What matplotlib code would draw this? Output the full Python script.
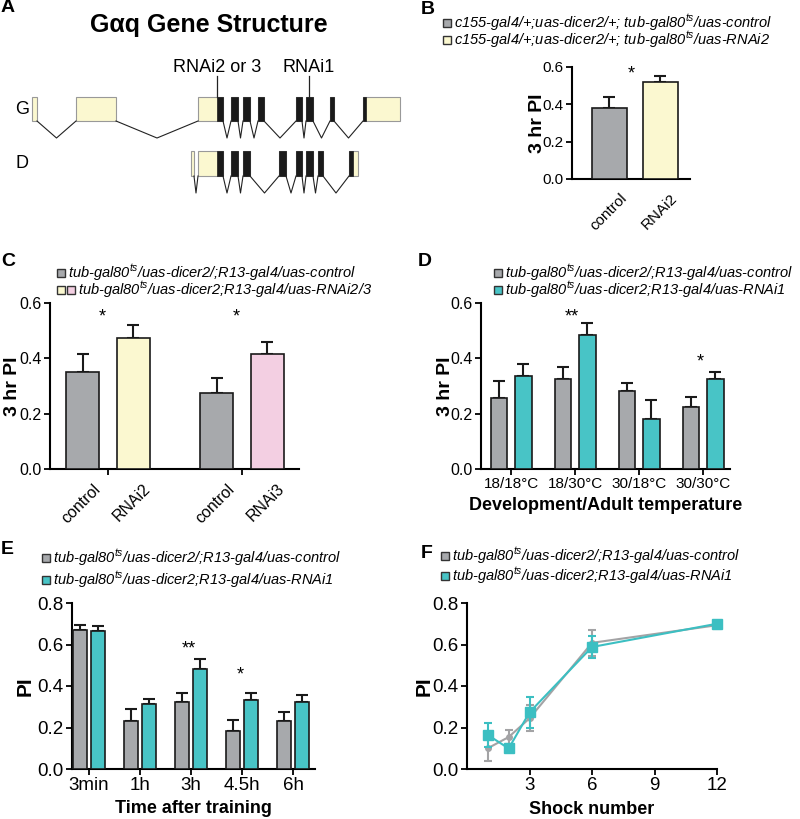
import numpy as np
import matplotlib
matplotlib.use('Agg')
import matplotlib.pyplot as plt
from matplotlib.patches import Rectangle
from matplotlib.transforms import ScaledTranslation

plt.rcParams['font.family'] = ['Liberation Sans', 'DejaVu Sans']
plt.rcParams['mathtext.fontset'] = 'custom'
plt.rcParams['mathtext.it'] = 'Liberation Sans:italic'
plt.rcParams['mathtext.rm'] = 'Liberation Sans'

W, H = 800, 819

grey = '#a7a9ac'
teal = '#48c4c6'
yellow = '#fbf8d0'
pink = '#f3cfe2'
grey_line = '#a3a3a5'
teal_line = '#3cbfc2'

# ---------------- data ----------------
# A: exon positions along the gene (diagram units) and coding region
g_exons = [(32, 37), (76, 116), (198, 223), (231, 238), (243, 250), (258, 264),
           (296, 302), (306, 313), (330, 334), (363, 400)]
g_cds = (217, 366)
d_exons = [(191, 194), (198, 223), (231, 238), (243, 250), (279, 286),
           (296, 302), (306, 313), (318, 323), (349, 358)]
d_cds = (217, 353)
rnai_sites = [217, 309]
rnai_labels = ['RNAi2 or 3', 'RNAi1']

# B
b_labels = ['control', 'RNAi2']
b_mean = [0.38, 0.52]
b_sem = [0.06, 0.03]

# C
c_labels = ['control', 'RNAi2', 'control', 'RNAi3']
c_mean = [0.351, 0.474, 0.275, 0.415]
c_sem = [0.063, 0.045, 0.054, 0.045]
c_stars = ['*', '*']

# D
d_groups = ['18/18°C', '18/30°C', '30/18°C', '30/30°C']
d_ctrl = [0.255, 0.325, 0.283, 0.225]
d_ctrl_sem = [0.064, 0.044, 0.027, 0.034]
d_rnai = [0.335, 0.486, 0.179, 0.325]
d_rnai_sem = [0.044, 0.043, 0.069, 0.024]
d_stars = ['', '**', '', '*']
d_star_y = [0, 0.549, 0, 0.387]

# E
e_groups = ['3min', '1h', '3h', '4.5h', '6h']
e_ctrl = [0.670, 0.232, 0.322, 0.183, 0.232]
e_ctrl_sem = [0.023, 0.055, 0.045, 0.054, 0.045]
e_rnai = [0.664, 0.313, 0.484, 0.333, 0.322]
e_rnai_sem = [0.025, 0.025, 0.047, 0.034, 0.037]
e_stars = ['', '', '**', '*', '']
e_star_y = [0, 0, 0.58, 0.452, 0]

# F
shocks = [1, 2, 3, 6, 12]
f_ctrl = [0.100, 0.154, 0.244, 0.608, 0.693]
f_ctrl_sem = [0.06, 0.035, 0.063, 0.062, 0.02]
f_rnai = [0.164, 0.099, 0.273, 0.588, 0.700]
f_rnai_sem = [0.056, 0.01, 0.075, 0.053, 0.01]

lab_ctrl = r'tub-gal80$^{ts}$/uas-dicer2/;R13-gal4/uas-control'
lab_rnai1 = r'tub-gal80$^{ts}$/uas-dicer2;R13-gal4/uas-RNAi1'

fig = plt.figure(figsize=(W / 100, H / 100), dpi=100)


def px_axes(x0, x1, y0, y1):
    return fig.add_axes([x0 / W, 1 - y1 / H, (x1 - x0) / W, (y1 - y0) / H])


def style(ax, size=11):
    for s in ['top', 'right']:
        ax.spines[s].set_visible(False)
    for s in ['left', 'bottom']:
        ax.spines[s].set_linewidth(1.5)
    ax.tick_params(direction='out', length=4, width=1.3, labelsize=size, pad=2)


def legend_row(x, y, colors, label):
    for i, c in enumerate(colors):
        fig.patches.append(Rectangle(((x + i * 10) / W, 1 - (y + 4) / H), 8 / W, 8 / H,
                                     transform=fig.transFigure, facecolor=c,
                                     edgecolor='#333333', lw=1))
    fig.text((x + 10 * len(colors) + 1) / W, 1 - y / H, label, style='italic',
             fontsize=10.5, va='center')


def letter(x, y, s):
    fig.text(x / W, 1 - y / H, s, fontsize=14, fontweight='bold', va='center')


def bars(ax, x, mean, sem, color):
    ax.errorbar(x, mean, yerr=[np.zeros(len(mean)), sem], fmt='none', ecolor='#1a1a1a',
                elinewidth=1.5, capsize=4, capthick=1.5, zorder=2)
    ax.bar(x, mean, width=bw, color=color, edgecolor='#1a1a1a', linewidth=1.2, zorder=3)


def stars(ax, x, ys, s):
    for xi, yi, si in zip(x, ys, s):
        if si:
            ax.text(xi, yi, si, ha='center', va='center', fontsize=13, clip_on=False)


# ---------------- A ----------------
axA = px_axes(0, 420, 0, 200)
axA.set_xlim(0, 420)
axA.set_ylim(200, 0)
axA.axis('off')


def gene(exons, cds, top, bot, dip):
    for (s, e) in exons:
        axA.add_patch(Rectangle((s, top), e - s, bot - top, facecolor=yellow,
                                edgecolor='#999999', lw=0.8))
        cs, ce = max(s, cds[0]), min(e, cds[1])
        if ce > cs:
            axA.add_patch(Rectangle((cs, top), ce - cs, bot - top, facecolor='#1a1a1a',
                                    edgecolor='#1a1a1a', lw=0.5))
    for (s0, e0), (s1, e1) in zip(exons[:-1], exons[1:]):
        axA.plot([e0, (e0 + s1) / 2, s1], [bot, dip, bot], color='#222222', lw=0.8)


gene(g_exons, g_cds, 97, 121, 138)
gene(d_exons, d_cds, 151, 176, 193)
axA.text(22, 110, 'G', fontsize=13, ha='center', va='center')
axA.text(22, 164, 'D', fontsize=13, ha='center', va='center')
for xs, lab in zip(rnai_sites, rnai_labels):
    axA.plot([xs, xs], [76, 97], color='#222222', lw=0.9)
    axA.text(xs, 68, lab, fontsize=13, ha='center', va='center')
axA.text(209, 25, 'Gαq Gene Structure', fontsize=18, fontweight='bold',
         ha='center', va='center')
letter(1, 8, 'A')

# ---------------- B ----------------
axB = px_axes(572, 690, 67, 179)
style(axB, 11)
bw = 0.69
xb = np.arange(len(b_mean))
bars(axB, xb, b_mean, b_sem, [grey, yellow])
axB.set_xlim(-0.74, 1.59)
axB.set_ylim(0, 0.6)
axB.set_yticks([0, 0.2, 0.4, 0.6])
axB.set_xticks([])
off = ScaledTranslation(0.10, -0.12, fig.dpi_scale_trans)
for xi, lab in zip(xb, b_labels):
    axB.text(xi, 0, lab, transform=axB.get_xaxis_transform() + off, rotation=45,
             ha='right', va='top', rotation_mode='anchor', fontsize=11)
axB.text(0.43, 0.56, '*', ha='center', va='center', fontsize=13)
axB.set_ylabel('3 hr PI', fontsize=14, fontweight='bold')
axB.yaxis.set_label_coords(-0.22, 0.5)
legend_row(443, 23, [grey], r'c155-gal4/+;uas-dicer2/+; tub-gal80$^{ts}$/uas-control')
legend_row(443, 40, [yellow], r'c155-gal4/+;uas-dicer2/+; tub-gal80$^{ts}$/uas-RNAi2')
letter(421, 9, 'B')

# ---------------- C ----------------
axC = px_axes(50, 299, 303, 469)
style(axC, 11.5)
bw = 0.246
xc = np.array([-0.187, 0.187, 0.813, 1.187])
bars(axC, xc, c_mean, c_sem, [grey, yellow, grey, pink])
axC.set_xlim(-0.433, 1.425)
axC.set_ylim(0, 0.6)
axC.set_yticks([0, 0.2, 0.4, 0.6])
axC.set_xticks([0, 1])
axC.set_xticklabels([])
for xi, lab in zip(xc, c_labels):
    axC.text(xi, 0, lab, transform=axC.get_xaxis_transform() + off, rotation=45,
             ha='right', va='top', rotation_mode='anchor', fontsize=11.5)
stars(axC, [-0.04, 0.96], [0.55, 0.55], c_stars)
axC.set_ylabel('3 hr PI', fontsize=14, fontweight='bold')
axC.yaxis.set_label_coords(-0.116, 0.5)
legend_row(57, 273, [grey], lab_ctrl)
legend_row(57, 290, [yellow, pink], r'tub-gal80$^{ts}$/uas-dicer2;R13-gal4/uas-RNAi2/3')
letter(1, 262, 'C')

# ---------------- D ----------------
axD = px_axes(481, 730, 303, 469)
style(axD, 11.5)
bw = 0.26
xd = np.arange(len(d_groups))
bars(axD, xd - 0.19, d_ctrl, d_ctrl_sem, grey)
bars(axD, xd + 0.19, d_rnai, d_rnai_sem, teal)
axD.set_xlim(-0.47, 3.42)
axD.set_ylim(0, 0.6)
axD.set_yticks([0, 0.2, 0.4, 0.6])
axD.set_xticks(xd)
axD.set_xticklabels(d_groups, fontsize=11)
stars(axD, xd - 0.05, d_star_y, d_stars)
axD.set_ylabel('3 hr PI', fontsize=14, fontweight='bold')
axD.yaxis.set_label_coords(-0.108, 0.5)
axD.set_xlabel('Development/Adult temperature', fontsize=13, fontweight='bold')
axD.xaxis.set_label_coords(0.5, -0.17)
legend_row(494, 273, [grey], lab_ctrl)
legend_row(494, 290, [teal], lab_rnai1)
letter(418, 262, 'D')

# ---------------- E ----------------
axE = px_axes(72, 315, 603, 769)
style(axE, 13.5)
bw = 0.27
xe = np.arange(len(e_groups))
bars(axE, xe - 0.18, e_ctrl, e_ctrl_sem, grey)
bars(axE, xe + 0.18, e_rnai, e_rnai_sem, teal)
axE.set_xlim(-0.33, 4.43)
axE.set_ylim(0, 0.8)
axE.set_yticks([0, 0.2, 0.4, 0.6, 0.8])
axE.set_xticks(xe)
axE.set_xticklabels(e_groups)
stars(axE, xe - 0.04, e_star_y, e_stars)
axE.set_ylabel('PI', fontsize=15, fontweight='bold')
axE.yaxis.set_label_coords(-0.155, 0.5)
axE.set_xlabel('Time after training', fontsize=13, fontweight='bold')
axE.xaxis.set_label_coords(0.5, -0.185)
legend_row(42, 558, [grey], lab_ctrl)
legend_row(42, 580, [teal], lab_rnai1)
letter(1, 550, 'E')

# ---------------- F ----------------
axF = px_axes(467, 717, 603, 769)
style(axF, 13.5)
axF.errorbar(shocks, f_ctrl, yerr=f_ctrl_sem, color=grey_line, marker='o', ms=4,
             lw=1.5, elinewidth=1.5, capsize=3, capthick=1.5, clip_on=False, zorder=3)
axF.errorbar(shocks, f_rnai, yerr=f_rnai_sem, color=teal_line, marker='s', ms=7,
             lw=1.5, elinewidth=1.5, capsize=3, capthick=1.5, clip_on=False, zorder=4)
axF.set_xlim(0, 12)
axF.set_ylim(0, 0.8)
axF.set_xticks([3, 6, 9, 12])
axF.set_yticks([0, 0.2, 0.4, 0.6, 0.8])
axF.set_ylabel('PI', fontsize=15, fontweight='bold')
axF.yaxis.set_label_coords(-0.135, 0.5)
axF.set_xlabel('Shock number', fontsize=13, fontweight='bold')
axF.xaxis.set_label_coords(0.5, -0.19)
legend_row(441, 556, [grey], lab_ctrl)
legend_row(441, 576, [teal], lab_rnai1)
letter(421, 553, 'F')

fig.savefig('out.png', dpi=100)
